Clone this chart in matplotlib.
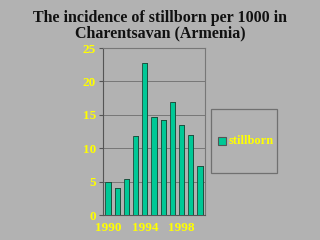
import matplotlib
matplotlib.use("Agg")
import matplotlib.pyplot as plt
from matplotlib.patches import Rectangle

years = [1990, 1991, 1992, 1993, 1994, 1995, 1996, 1997, 1998, 1999, 2000]
stillborn = [4.9, 4.0, 5.4, 11.8, 22.7, 14.7, 14.2, 16.9, 13.5, 12.0, 7.3]
yticks = [0, 5, 10, 15, 20, 25]
xlabels = ["1990", "1994", "1998"]

bg = "#b2b2b2"
teal = "#00c896"
yellow = "#ffff00"

plt.rcParams["font.family"] = ["Liberation Serif", "DejaVu Serif"]
plt.rcParams["font.weight"] = "bold"

fig = plt.figure(figsize=(3.2, 2.4), dpi=100, facecolor=bg)
ax = fig.add_axes([103 / 320, 1 - 215 / 240, 102 / 320, 167 / 240], facecolor=bg)

x = list(range(len(years)))
# dark side of each bar for the 3D look
ax.bar([i + 0.1 for i in x], stillborn, width=0.58, color="#1f4a3a", zorder=2)
ax.bar(x, stillborn, width=0.58, color=teal, edgecolor="#1f4a3a", linewidth=0.6, zorder=3)

ax.set_ylim(0, 25)
ax.set_xlim(-0.55, len(years) - 0.45)
ax.set_yticks(yticks)
ax.set_yticklabels([str(t) for t in yticks], color=yellow, fontsize=9.5, fontweight="bold")
ax.set_xticks([years.index(int(l)) for l in xlabels])
ax.set_xticklabels(xlabels, color=yellow, fontsize=9.5, fontweight="bold")
ax.tick_params(axis="y", length=3, color="#555555", pad=2)
ax.tick_params(axis="x", length=0, pad=5)
ax.grid(axis="y", color="#777777", linewidth=0.7, zorder=0)
for s in ax.spines.values():
    s.set_color("#777777")
    s.set_linewidth(0.8)
ax.spines["left"].set_color("#555555")
ax.spines["bottom"].set_color("#555555")

fig.text(0.5, 0.96, "The incidence of stillborn per 1000 in\nCharentsavan (Armenia)",
         ha="center", va="top", fontsize=11.5, fontweight="bold", color="#111111",
         linespacing=1.0)

# legend box
fig.patches.append(Rectangle((211 / 320, 1 - 173 / 240), 66 / 320, 64 / 240,
                             transform=fig.transFigure, facecolor="none",
                             edgecolor="#707070", linewidth=0.9))
fig.patches.append(Rectangle((218 / 320, 1 - 145 / 240), 8 / 320, 8 / 240,
                             transform=fig.transFigure, facecolor=teal,
                             edgecolor="#555555", linewidth=0.8))
fig.text(229 / 320, 1 - 141 / 240, "stillborn", color=yellow, fontsize=9,
         fontweight="bold", va="center")

plt.savefig("out.png", dpi=100, facecolor=bg)
